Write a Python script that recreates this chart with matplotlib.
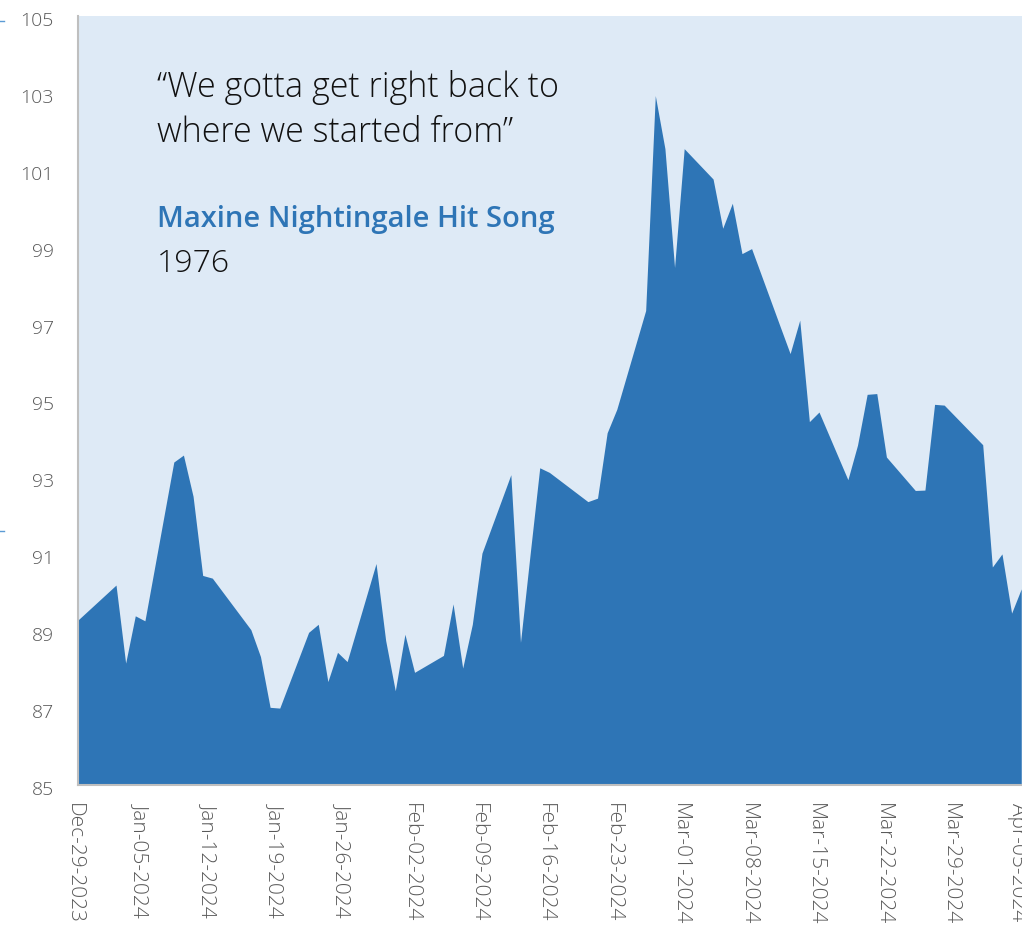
import numpy as np
import pandas as pd
import matplotlib
matplotlib.use('Agg')
import matplotlib.pyplot as plt
import matplotlib.dates as mdates
import matplotlib.transforms as mtransforms
from matplotlib.lines import Line2D

dates = ['2023-12-29', '2024-01-02', '2024-01-03', '2024-01-04', '2024-01-05',
         '2024-01-08', '2024-01-09', '2024-01-10', '2024-01-11', '2024-01-12',
         '2024-01-16', '2024-01-17', '2024-01-18', '2024-01-19',
         '2024-01-22', '2024-01-23', '2024-01-24', '2024-01-25', '2024-01-26',
         '2024-01-29', '2024-01-30', '2024-01-31', '2024-02-01', '2024-02-02',
         '2024-02-05', '2024-02-06', '2024-02-07', '2024-02-08', '2024-02-09',
         '2024-02-12', '2024-02-13', '2024-02-14', '2024-02-15', '2024-02-16',
         '2024-02-20', '2024-02-21', '2024-02-22', '2024-02-23',
         '2024-02-26', '2024-02-27', '2024-02-28', '2024-02-29', '2024-03-01',
         '2024-03-04', '2024-03-05', '2024-03-06', '2024-03-07', '2024-03-08',
         '2024-03-11', '2024-03-12', '2024-03-13', '2024-03-14', '2024-03-15',
         '2024-03-18', '2024-03-19', '2024-03-20', '2024-03-21', '2024-03-22',
         '2024-03-25', '2024-03-26', '2024-03-27', '2024-03-28',
         '2024-04-01', '2024-04-02', '2024-04-03', '2024-04-04', '2024-04-05']
values = [89.28, 90.20, 88.17, 89.40, 89.27,
          93.40, 93.58, 92.51, 90.45, 90.38,
          89.04, 88.34, 87.02, 87.00,
          88.97, 89.18, 87.69, 88.45, 88.21,
          90.76, 88.76, 87.45, 88.92, 87.93,
          88.37, 89.71, 88.04, 89.18, 91.03,
          93.07, 88.71, 91.00, 93.25, 93.13,
          92.37, 92.46, 94.16, 94.77,
          97.34, 102.93, 101.55, 98.46, 101.55,
          100.76, 99.48, 100.13, 98.82, 98.95,
          96.90, 96.22, 97.09, 94.45, 94.70,
          92.94, 93.84, 95.16, 95.18, 93.53,
          92.66, 92.67, 94.90, 94.88,
          93.85, 90.67, 91.01, 89.47, 90.10]

week_ticks = pd.date_range('2023-12-29', '2024-04-05', freq='7D')
y_ticks = list(range(85, 106, 2))

quote_lines = ['\u201cWe gotta get right back to', 'where we started from\u201d']
song_title = 'Maxine Nightingale Hit Song'
song_year = '1976'

fill_blue = '#2E75B6'
panel_bg = '#DEEAF6'
label_grey = '#595959'

plt.rcParams['font.family'] = ['Open Sans', 'DejaVu Sans']

x = pd.to_datetime(dates)

fig = plt.figure(figsize=(10.22, 9.27), dpi=100)
W, H = 1022, 927
ax = fig.add_axes([77.5 / W, (H - 785) / H, (W - 77.5) / W, (785 - 16) / H])
ax.set_facecolor(panel_bg)

ax.fill_between(x, values, 85, color=fill_blue, linewidth=0)

x0 = mdates.date2num(pd.Timestamp('2023-12-29'))
ax.set_xlim(x0, x0 + 98.08)
ax.set_ylim(85, 105)

ax.set_yticks(y_ticks)
ax.set_xticks(week_ticks)
ax.xaxis.set_major_formatter(mdates.DateFormatter('%b-%d-%Y'))
ax.tick_params(axis='y', length=0, pad=17, labelsize=14, labelcolor=label_grey)
ax.tick_params(axis='x', length=0, pad=13, labelsize=15, labelcolor=label_grey,
               labelrotation=-90)

# nudge labels a few pixels (x labels left, y labels down)
shift_x = mtransforms.ScaledTranslation(-4 / 100, 0, fig.dpi_scale_trans)
shift_y = mtransforms.ScaledTranslation(0, -3 / 100, fig.dpi_scale_trans)
for lab in ax.get_xticklabels():
    lab.set_verticalalignment('top')
    lab.set_horizontalalignment('center')
    lab.set_transform(lab.get_transform() + shift_x)
for lab in ax.get_yticklabels():
    lab.set_transform(lab.get_transform() + shift_y)
for lab in ax.get_xticklabels() + ax.get_yticklabels():
    lab.set_fontweight('light')

for side in ['top', 'right']:
    ax.spines[side].set_visible(False)
for side in ['left', 'bottom']:
    ax.spines[side].set_color('#BFBFBF')
    ax.spines[side].set_linewidth(1.5)

# quote block
fig.text(157 / W, (H - 97) / H, quote_lines[0], fontsize=24.5, fontweight='light',
         color='#111111', va='baseline', ha='left')
fig.text(157 / W, (H - 142) / H, quote_lines[1], fontsize=24.5, fontweight='light',
         color='#111111', va='baseline', ha='left')
fig.text(157 / W, (H - 227) / H, song_title, fontsize=21, fontweight='semibold',
         color=fill_blue, va='baseline', ha='left')
fig.text(157 / W, (H - 272) / H, song_year, fontsize=23, fontweight='light',
         color='#111111', va='baseline', ha='left')

# small marks on the left edge
for yy in [21, 531]:
    fig.add_artist(Line2D([0, 4 / W], [(H - yy) / H] * 2, color='#5B9BD5', lw=1))

fig.savefig('out.png', dpi=100)
